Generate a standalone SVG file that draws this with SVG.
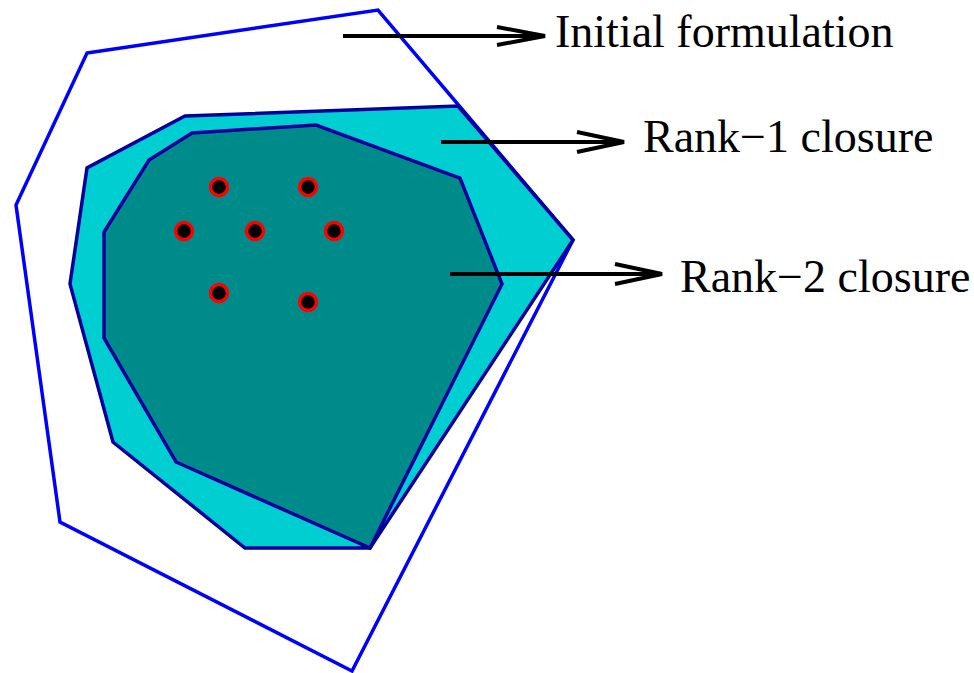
<svg xmlns="http://www.w3.org/2000/svg" width="974" height="673" viewBox="0 0 974 673">
<style>
.poly{stroke-linejoin:miter;stroke-width:3.5}
.dot{fill:#000;stroke:#ff0000;stroke-width:3.5}
.arr{stroke:#000;stroke-width:4;fill:none}
.lbl{font-family:"Liberation Serif","Times New Roman",serif;font-size:46px;fill:#000}
</style>
<rect width="974" height="673" fill="#fff"/>
<g id="initial-formulation">
<polygon class="poly" points="87,53 378,10 573,240 352,671 60,522 16,205" fill="none" stroke="#0000ff"/>
</g>
<g id="rank1-closure">
<polygon class="poly" points="185,116 458,106 573,240 370,548 245,548 113,442 70,284 87,168" fill="#00ced1" stroke="#00009c"/>
</g>
<g id="rank2-closure">
<polygon class="poly" points="192,133 316,125 460,178 502,284 370,548 176,462 104,338 104,232 149,160" fill="#008b8b" stroke="#00009c"/>
</g>
<g id="points">
<circle class="dot" cx="219" cy="187" r="8.5"/>
<circle class="dot" cx="308" cy="187" r="8.5"/>
<circle class="dot" cx="184" cy="231" r="8.5"/>
<circle class="dot" cx="255" cy="231" r="8.5"/>
<circle class="dot" cx="334" cy="231" r="8.5"/>
<circle class="dot" cx="219" cy="293" r="8.5"/>
<circle class="dot" cx="308" cy="302" r="8.5"/>
</g>
<g id="connectors">
<path class="arr" d="M343,36 H544 M497,27 L545,36 L497,45"/>
<path class="arr" d="M441,142 H622 M577,132 L624,142 L577,152"/>
<path class="arr" d="M450,274 H661 M615,264 L662,274 L615,284"/>
</g>
<g id="labels">
<text class="lbl" x="555" y="47">Initial formulation</text>
<text class="lbl" x="643" y="152">Rank−1 closure</text>
<text class="lbl" x="680" y="292">Rank−2 closure</text>
</g>
</svg>
